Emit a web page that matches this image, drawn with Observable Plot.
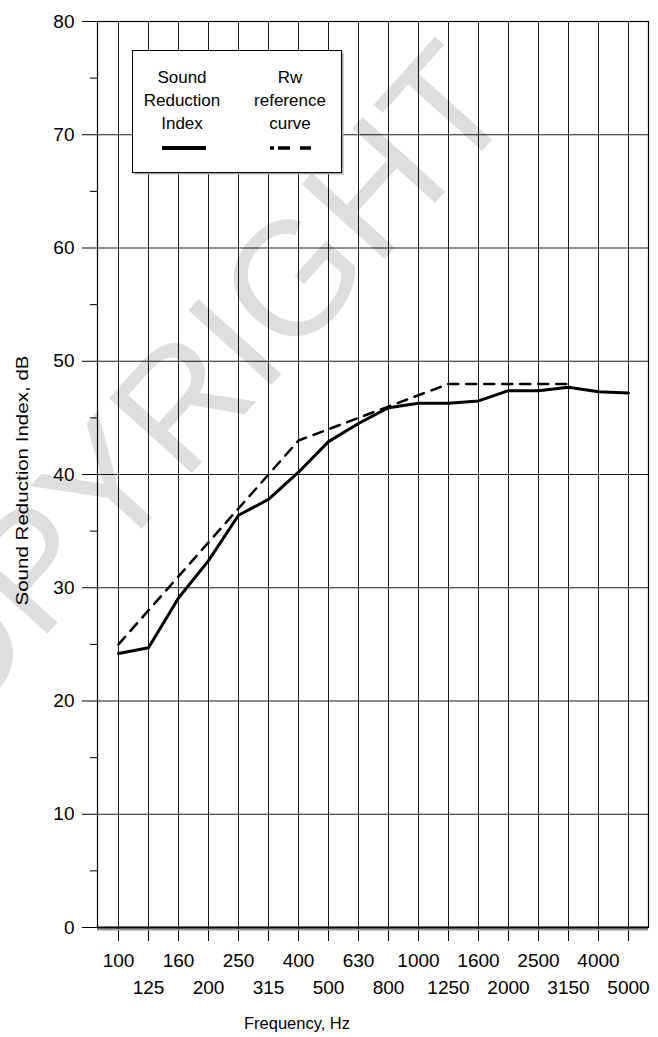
<!DOCTYPE html>
<html>
<head>
<meta charset="utf-8">
<script src="https://cdn.jsdelivr.net/npm/d3@7"></script>
<script src="https://cdn.jsdelivr.net/npm/@observablehq/plot@0.6"></script>
<style>
  html, body { margin: 0; padding: 0; background: white; }
  #wrap { position: relative; width: 658px; height: 1037px; }
  #legend { position: absolute; left: 132px; top: 50px; }
</style>
</head>
<body>
<div id="wrap"></div>
<script>
// ---- data ----
const freqs = ["100","125","160","200","250","315","400","500","630","800","1000","1250","1600","2000","2500","3150","4000","5000"];
const sriValues = [24.2, 24.7, 29.1, 32.4, 36.4, 37.8, 40.2, 42.9, 44.5, 45.9, 46.3, 46.3, 46.5, 47.4, 47.4, 47.7, 47.3, 47.2];
const rwFreqs = ["100","125","160","200","250","315","400","500","630","800","1000","1250","1600","2000","2500","3150"];
const rwValues = [25, 28, 31, 34, 37, 40, 43, 44, 45, 46, 47, 48, 48, 48, 48, 48];
const yTicks = [0, 10, 20, 30, 40, 50, 60, 70, 80];
const yMinorTicks = [5, 15, 25, 35, 45, 55, 65, 75];
const xTitle = ["Frequency, Hz"];
const yTitle = ["Sound Reduction Index, dB"];
const watermark = ["COPYRIGHT"];
const legendLabels = [["Sound", "Reduction", "Index"], ["Rw", "reference", "curve"]];

const sri = freqs.map((f, i) => ({f, v: sriValues[i]}));
const rw = rwFreqs.map((f, i) => ({f, v: rwValues[i]}));
const evenFreqs = freqs.filter((d, i) => i % 2 === 0);
const oddFreqs = freqs.filter((d, i) => i % 2 === 1);

const chart = Plot.plot({
  width: 658,
  height: 1037,
  marginTop: 21,
  marginBottom: 110,
  marginLeft: 97,
  marginRight: 10,
  style: {fontFamily: "'Liberation Sans', Arial, sans-serif", fontSize: "19px", color: "black", background: "white"},
  x: {type: "point", domain: freqs, padding: 0.5},
  y: {domain: [0, 80]},
  marks: [
    Plot.text(watermark, {text: d => d, frameAnchor: "top-left", textAnchor: "middle", lineAnchor: "middle", dx: 62, dy: 410, rotate: -48, fontSize: 162, fill: "#dedede"}),
    Plot.gridX(freqs, {stroke: "black", strokeOpacity: 0.9}),
    Plot.gridY(yTicks, {stroke: "black", strokeOpacity: 0.9}),
    Plot.axisY(yTicks, {tickSize: 15, tickPadding: 8, label: null}),
    Plot.axisY(yMinorTicks, {tickSize: 7, tickFormat: () => "", label: null}),
    Plot.axisX(evenFreqs, {tickSize: 14, tickPadding: 12, label: null}),
    Plot.axisX(oddFreqs, {tickSize: 14, tickPadding: 39, label: null}),
    Plot.ruleY([0], {dy: 2, stroke: "#999", strokeWidth: 2}),
    Plot.ruleY([0], {stroke: "black", strokeWidth: 2}),
    Plot.frame({stroke: "black", strokeWidth: 1.2}),
    Plot.line(rw, {x: "f", y: "v", stroke: "black", strokeWidth: 2.5, strokeDasharray: "10,8"}),
    Plot.line(sri, {x: "f", y: "v", stroke: "black", strokeWidth: 3}),
    Plot.text(xTitle, {text: d => d, frameAnchor: "bottom", textAnchor: "middle", dx: -76, dy: 101, fontSize: 16.5}),
    Plot.text(yTitle, {text: d => d, frameAnchor: "left", textAnchor: "middle", dx: -75, dy: 6, rotate: -90, fontSize: 17})
  ]
});

const wrap = document.getElementById("wrap");
wrap.appendChild(chart);
// stretch y title to the reference's length
d3.select(chart).selectAll("text").filter(function() { return this.textContent === yTitle[0]; })
  .attr("textLength", 250).attr("lengthAdjust", "spacingAndGlyphs");

// legend overlay
const ns = "http://www.w3.org/2000/svg";
const lg = document.createElementNS(ns, "svg");
lg.setAttribute("id", "legend");
lg.setAttribute("width", 214);
lg.setAttribute("height", 127);
lg.style.fontFamily = "'Liberation Sans', Arial, sans-serif";
function el(tag, attrs, parent) {
  const e = document.createElementNS(ns, tag);
  for (const k in attrs) e.setAttribute(k, attrs[k]);
  (parent || lg).appendChild(e);
  return e;
}
el("rect", {x: 2.5, y: 2.5, width: 209, height: 122, fill: "#aaa"});
el("rect", {x: 0.5, y: 0.5, width: 209, height: 122, fill: "white", stroke: "black", "stroke-width": 1});
const cols = [50, 158];
legendLabels.forEach((lines, c) => {
  lines.forEach((t, r) => {
    const tx = el("text", {x: cols[c], y: 27 + r * 23, "text-anchor": "middle", "dominant-baseline": "central", "font-size": 17, fill: "black"});
    tx.textContent = t;
  });
});
el("line", {x1: 30, x2: 74, y1: 98, y2: 98, stroke: "black", "stroke-width": 4});
el("line", {x1: 138, x2: 179, y1: 98, y2: 98, stroke: "black", "stroke-width": 3.3, "stroke-dasharray": "4 4 12 10 11"});
wrap.appendChild(lg);
</script>
</body>
</html>
